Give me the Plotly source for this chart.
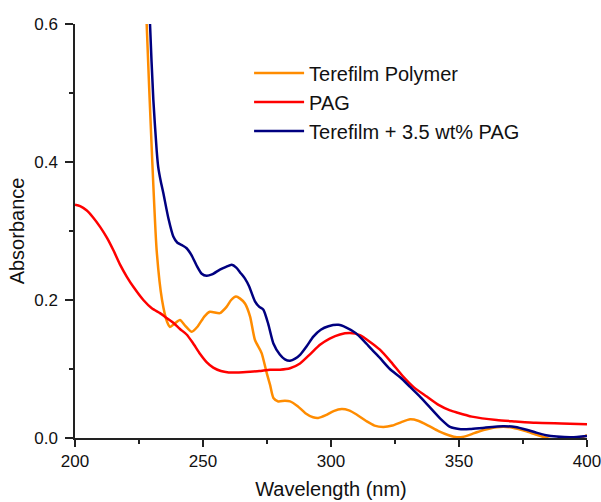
import plotly.graph_objects as go

# Terefilm Polymer
tp_x = [227.5, 228, 230, 231.9, 234, 236, 237.1, 239, 241, 243, 245.6, 248, 250.5, 252.7, 256.6,
        259.2, 261, 262.9, 264.5, 266.4, 268.4, 270.3, 272.9, 274.9, 276.2, 277.5, 279.4, 282, 284,
        287, 290, 293, 295, 298, 301, 304.2, 307, 310, 314, 317, 320.4, 324, 327.5, 330.9, 334, 338,
        342, 346, 349.1, 352, 356, 360, 366, 371, 376, 380, 384.3, 388, 392, 396, 400]
tp_y = [0.68, 0.6, 0.417, 0.272, 0.2, 0.168, 0.161, 0.166, 0.171, 0.163, 0.154, 0.162, 0.176, 0.183, 0.181,
        0.19, 0.2, 0.205, 0.202, 0.195, 0.176, 0.142, 0.123, 0.094, 0.077, 0.058, 0.053, 0.054, 0.053,
        0.046, 0.036, 0.030, 0.029, 0.033, 0.039, 0.042, 0.040, 0.034, 0.024, 0.018, 0.016, 0.018, 0.023, 0.027, 0.025, 0.018,
        0.010, 0.004, 0.001, 0.002, 0.007, 0.012, 0.016, 0.015, 0.010, 0.005, 0.0, -0.004, -0.005, -0.002, 0.004]

# PAG
pag_x = [200, 202, 204.5, 207, 209.8, 212.5, 215, 217.5, 220.2, 223, 226.7, 230, 233.2, 235.8, 238.4,
         241, 243.6, 246, 248.8, 251.4, 254, 257, 260, 264, 268.4, 272, 276.2, 280.1, 284, 287.9, 292,
         295.7, 299.5, 303.5, 307.4, 311.3, 315, 319.1, 323.5, 328.2, 332.5, 337.4, 342, 346.5, 349.1,
         355, 364.7, 372, 380, 390, 400]
pag_y = [0.338, 0.336, 0.330, 0.320, 0.306, 0.290, 0.272, 0.252, 0.234, 0.218, 0.200, 0.188, 0.181, 0.174, 0.167,
         0.158, 0.150, 0.138, 0.122, 0.110, 0.102, 0.097, 0.095, 0.095, 0.096, 0.097, 0.099, 0.099, 0.101, 0.108, 0.122,
         0.135, 0.144, 0.150, 0.152, 0.149, 0.140, 0.128, 0.110, 0.089, 0.073, 0.060, 0.048, 0.040, 0.037,
         0.031, 0.026, 0.024, 0.022, 0.021, 0.020]

# Terefilm + 3.5 wt% PAG
mix_x = [228.6, 229.3, 230.6, 231.9, 232.5, 233.5, 234.5, 236.5, 238.4, 240, 242, 243.6, 245.5, 247.5, 249.5,
         251.4, 253.5, 256.6, 259, 261.2, 263, 264.5, 266.4, 268, 270.3, 272, 273.6, 275.5, 277.5, 280, 282,
         284, 286, 288, 290.5, 293.1, 296, 299, 302.9, 306, 309.7, 313, 316, 319.1, 323, 327, 330.9, 335,
         339, 343, 346.5, 350, 354.3, 360, 367.3, 372, 376.4, 380, 384, 388.2, 394, 400]
mix_y = [0.70, 0.60, 0.49, 0.417, 0.393, 0.372, 0.355, 0.318, 0.292, 0.283, 0.279, 0.275, 0.265, 0.250, 0.238,
         0.235, 0.237, 0.244, 0.248, 0.251, 0.247, 0.240, 0.231, 0.220, 0.198, 0.190, 0.186, 0.165, 0.137, 0.121, 0.114,
         0.112, 0.115, 0.121, 0.133, 0.147, 0.157, 0.162, 0.164, 0.160, 0.152, 0.140, 0.128, 0.116, 0.100, 0.088, 0.074, 0.059,
         0.043, 0.027, 0.016, 0.013, 0.013, 0.015, 0.017, 0.016, 0.012, 0.008, 0.004, 0.002, 0.001, 0.003]

FONT = "Arial, 'Liberation Sans', sans-serif"

fig = go.Figure()
fig.add_trace(go.Scatter(x=tp_x, y=tp_y, mode="lines", name="Terefilm Polymer",
                         line=dict(color="#FF8C00", width=2.5, shape="spline", smoothing=0.6)))
fig.add_trace(go.Scatter(x=pag_x, y=pag_y, mode="lines", name="PAG",
                         line=dict(color="#FF0000", width=2.5, shape="spline", smoothing=0.6)))
fig.add_trace(go.Scatter(x=mix_x, y=mix_y, mode="lines", name="Terefilm + 3.5 wt% PAG",
                         line=dict(color="#000080", width=2.5, shape="spline", smoothing=0.6)))

axis_common = dict(showgrid=False, zeroline=False, showline=True, linecolor="#222222", linewidth=1.5,
                   ticks="outside", tickcolor="#222222", tickwidth=1.5, mirror=False, automargin=False,
                   ticklabeloverflow="allow",
                   tickfont=dict(family=FONT, size=17, color="#111111"))

fig.update_xaxes(range=[200, 400], dtick=50, tick0=200, ticklen=7,
                 minor=dict(dtick=25, ticks="outside", ticklen=4, tickcolor="#222222", tickwidth=1.5),
                 title=dict(text="Wavelength (nm)", font=dict(family=FONT, size=20, color="#111111"), standoff=12),
                 **axis_common)
fig.update_yaxes(range=[0, 0.6], dtick=0.2, tick0=0, ticklen=8, tickformat=".1f", ticklabelstandoff=4,
                 minor=dict(dtick=0.1, ticks="outside", ticklen=4, tickcolor="#222222", tickwidth=1.5),
                 title=dict(text="Absorbance", font=dict(family=FONT, size=20, color="#111111"), standoff=4),
                 **axis_common)

fig.update_layout(
    width=601, height=502,
    margin=dict(l=75, r=14, t=24, b=64),
    plot_bgcolor="white", paper_bgcolor="white",
    legend=dict(x=0.34, y=0.929, xanchor="left", yanchor="top", bgcolor="rgba(0,0,0,0)",
                font=dict(family=FONT, size=20, color="#111111"), itemwidth=50, tracegroupgap=0),
)

fig.write_html("out.html", config={"displayModeBar": False})

# remove the default browser body margin so the figure sits at the window's origin
with open("out.html", "r", encoding="utf-8") as f:
    html = f.read()
html = html.replace("<head>", "<head><style>html,body{margin:0;padding:0;overflow:hidden;}</style>", 1)
with open("out.html", "w", encoding="utf-8") as f:
    f.write(html)
